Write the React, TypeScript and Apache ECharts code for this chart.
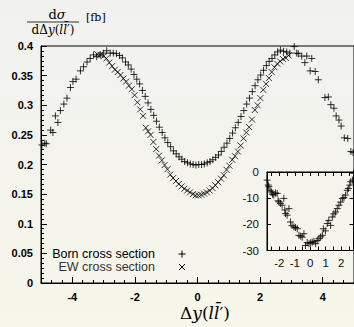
import React, { useEffect, useRef } from 'react';
import * as echarts from 'echarts';

// Born cross section (+), [Δy, dσ/dΔy in fb]
const BORN: [number, number][] = [
  [-4.97, 0.233], [-4.88, 0.236], [-4.83, 0.235], [-4.69, 0.258], [-4.62, 0.254], [-4.54, 0.282],
  [-4.46, 0.271], [-4.38, 0.291], [-4.27, 0.302], [-4.17, 0.312], [-4.06, 0.330], [-3.98, 0.340],
  [-3.88, 0.344], [-3.74, 0.358], [-3.64, 0.365], [-3.53, 0.373], [-3.43, 0.379], [-3.32, 0.385],
  [-3.22, 0.382], [-3.11, 0.385], [-3.01, 0.388], [-2.90, 0.392], [-2.79, 0.388], [-2.69, 0.388],
  [-2.59, 0.387], [-2.49, 0.384], [-2.40, 0.380], [-2.30, 0.373], [-2.21, 0.368], [-2.12, 0.361],
  [-2.03, 0.352], [-1.94, 0.344], [-1.85, 0.336], [-1.76, 0.325], [-1.67, 0.315], [-1.58, 0.304],
  [-1.49, 0.293], [-1.40, 0.283], [-1.31, 0.273], [-1.22, 0.263], [-1.13, 0.254], [-1.04, 0.245],
  [-0.95, 0.237], [-0.86, 0.230], [-0.77, 0.223], [-0.68, 0.218], [-0.59, 0.213], [-0.50, 0.209],
  [-0.41, 0.205], [-0.32, 0.203], [-0.23, 0.201], [-0.14, 0.200], [-0.05, 0.199], [0.04, 0.200],
  [0.13, 0.200], [0.22, 0.201], [0.31, 0.203], [0.40, 0.205], [0.49, 0.208], [0.58, 0.212],
  [0.67, 0.216], [0.76, 0.222], [0.85, 0.229], [0.94, 0.236], [1.03, 0.244], [1.12, 0.253],
  [1.21, 0.262], [1.30, 0.271], [1.39, 0.281], [1.48, 0.291], [1.57, 0.302], [1.66, 0.312],
  [1.75, 0.323], [1.84, 0.333], [1.93, 0.343], [2.02, 0.351], [2.11, 0.359], [2.20, 0.367],
  [2.29, 0.374], [2.38, 0.379], [2.47, 0.385], [2.56, 0.390], [2.65, 0.393], [2.75, 0.391],
  [2.85, 0.390], [2.95, 0.388], [3.09, 0.399], [3.17, 0.388], [3.22, 0.387], [3.33, 0.383],
  [3.43, 0.372], [3.49, 0.383], [3.60, 0.358], [3.65, 0.379], [3.76, 0.357], [3.86, 0.343],
  [4.07, 0.313], [4.18, 0.314], [4.26, 0.301], [4.36, 0.295], [4.43, 0.282], [4.52, 0.275],
  [4.59, 0.265], [4.69, 0.245], [4.80, 0.244], [4.90, 0.222], [4.97, 0.220],
];

// EW cross section (×)
const EW: [number, number][] = [
  [-3.20, 0.386], [-3.10, 0.385], [-3.00, 0.383], [-2.91, 0.379], [-2.82, 0.372], [-2.73, 0.366],
  [-2.64, 0.360], [-2.55, 0.356], [-2.46, 0.351], [-2.37, 0.345], [-2.28, 0.340], [-2.19, 0.333],
  [-2.10, 0.327], [-2.01, 0.317], [-1.92, 0.305], [-1.83, 0.293], [-1.74, 0.282], [-1.65, 0.262],
  [-1.58, 0.256], [-1.50, 0.250], [-1.41, 0.238], [-1.32, 0.226], [-1.23, 0.215], [-1.14, 0.207],
  [-1.05, 0.199], [-0.96, 0.192], [-0.87, 0.183], [-0.78, 0.177], [-0.69, 0.172], [-0.60, 0.167],
  [-0.51, 0.163], [-0.42, 0.159], [-0.33, 0.156], [-0.24, 0.153], [-0.15, 0.150], [-0.06, 0.148],
  [0.03, 0.148], [0.12, 0.149], [0.21, 0.151], [0.30, 0.153], [0.39, 0.156], [0.48, 0.160],
  [0.57, 0.165], [0.66, 0.170], [0.75, 0.176], [0.84, 0.182], [0.93, 0.191], [1.02, 0.198],
  [1.11, 0.208], [1.20, 0.214], [1.29, 0.222], [1.38, 0.232], [1.47, 0.244], [1.56, 0.254],
  [1.65, 0.263], [1.74, 0.276], [1.83, 0.292], [1.92, 0.300], [2.01, 0.312], [2.10, 0.326],
  [2.19, 0.336], [2.28, 0.346], [2.37, 0.356], [2.46, 0.364], [2.55, 0.370], [2.64, 0.374],
  [2.73, 0.378], [2.82, 0.380], [2.91, 0.384],
];

// Inset: relative EW correction in %
const RATIO: [number, number][] = [
  [-2.79, -3.1], [-2.72, -5.0], [-2.68, -5.6], [-2.60, -7.0], [-2.51, -7.6], [-2.44, -8.5],
  [-2.36, -8.8], [-2.25, -8.0], [-2.14, -8.2], [-2.08, -11.0], [-2.03, -11.4], [-1.93, -12.0],
  [-1.82, -12.7], [-1.71, -10.1], [-1.65, -14.5], [-1.60, -15.9], [-1.50, -16.5], [-1.38, -14.0],
  [-1.28, -19.1], [-1.18, -20.5], [-1.06, -21.0], [-0.95, -21.2], [-0.84, -21.7], [-0.73, -24.2],
  [-0.62, -24.5], [-0.52, -24.9], [-0.41, -23.6], [-0.31, -28.1], [-0.20, -27.0], [-0.08, -27.4],
  [0.03, -27.0], [0.13, -26.8], [0.24, -26.5], [0.35, -27.4], [0.45, -26.2], [0.56, -25.5],
  [0.67, -24.8], [0.78, -24.2], [0.85, -21.7], [0.98, -22.5], [1.10, -19.7], [1.20, -18.5],
  [1.32, -20.4], [1.43, -17.2], [1.53, -16.0], [1.64, -15.3], [1.75, -14.0], [1.86, -12.7],
  [1.97, -11.5], [2.08, -10.1], [2.18, -9.8], [2.29, -8.8], [2.40, -7.0], [2.47, -6.3],
  [2.56, -5.0], [2.62, -3.7], [2.73, -3.1], [2.80, -0.5],
];

const MAIN_X_LABELS = [-4, -2, 0, 2, 4];
const MAIN_X_MINOR = Array.from({ length: 31 }, (_, i) => -5 + i / 3);
const INSET_X_LABELS = [-2, -1, 0, 1, 2];
const INSET_X_TICKS = [-2.5, -2, -1.5, -1, -0.5, 0, 0.5, 1, 1.5, 2, 2.5];

const PLUS = 'path://M0,5L10,5M5,0L5,10';
const CROSS = 'path://M0,0L10,10M10,0L0,10';

const SANS = '"Liberation Sans", Arial, sans-serif';
const SERIF = '"DejaVu Serif", serif';

const markStyle = { color: 'rgba(0,0,0,0)', borderColor: '#000', borderWidth: 1 };

export default function App() {
  const ref = useRef<HTMLDivElement>(null);
  useEffect(() => {
    const chart = echarts.init(ref.current!, null, { renderer: 'svg' });
    const axisLine = { show: true, onZero: false, lineStyle: { color: '#000', width: 1 } };
    const noLine = { show: false, onZero: false };
    const mainLabel = { color: '#000', fontFamily: SANS, fontSize: 11, fontWeight: 'bold' as const };
    const insetLabel = { color: '#111', fontFamily: SANS, fontSize: 11.5 };
    chart.setOption({
      animation: false,
      backgroundColor: 'transparent',
      grid: [
        { left: 41, top: 46, width: 315, height: 237, show: true, borderColor: '#000', borderWidth: 1, backgroundColor: 'transparent' },
        { left: 267, top: 172, width: 86.5, height: 78.5, show: true, borderColor: '#000', borderWidth: 1, backgroundColor: 'transparent' },
      ],
      xAxis: [
        {
          gridIndex: 0, type: 'value', min: -5, max: 5, position: 'bottom',
          axisLine, splitLine: { show: false },
          axisTick: { show: true, inside: true, length: 6, customValues: MAIN_X_LABELS, lineStyle: { color: '#000' } },
          axisLabel: { ...mainLabel, margin: 8, customValues: MAIN_X_LABELS },
        },
        {
          gridIndex: 0, type: 'value', min: -5, max: 5, position: 'bottom',
          axisLine: noLine, splitLine: { show: false },
          axisTick: { show: true, inside: true, length: 3, customValues: MAIN_X_MINOR, lineStyle: { color: '#000' } },
          axisLabel: { show: false },
        },
        {
          gridIndex: 1, type: 'value', min: -2.8, max: 2.8, position: 'bottom',
          axisLine, splitLine: { show: false },
          axisTick: { show: true, inside: true, length: 4, customValues: INSET_X_TICKS, lineStyle: { color: '#000' } },
          axisLabel: { ...insetLabel, margin: 6, customValues: INSET_X_LABELS },
        },
        {
          gridIndex: 1, type: 'value', min: -2.8, max: 2.8, position: 'top',
          axisLine, splitLine: { show: false },
          axisTick: { show: true, inside: true, length: 4, customValues: INSET_X_TICKS, lineStyle: { color: '#000' } },
          axisLabel: { show: false },
        },
      ],
      yAxis: [
        {
          gridIndex: 0, type: 'value', min: 0, max: 0.4, interval: 0.05, position: 'left',
          axisLine, splitLine: { show: false },
          axisTick: { show: true, inside: true, length: 6, lineStyle: { color: '#000' } },
          minorTick: { show: true, splitNumber: 6, length: 3, lineStyle: { color: '#000' } },
          axisLabel: { ...mainLabel, margin: 8, formatter: (v: number) => String(Math.round(v * 100) / 100) },
        },
        {
          gridIndex: 1, type: 'value', min: -30, max: 0, interval: 10, position: 'left',
          axisLine, splitLine: { show: false },
          axisTick: { show: true, inside: true, length: 4, lineStyle: { color: '#000' } },
          axisLabel: { ...insetLabel, margin: 8 },
        },
        {
          gridIndex: 1, type: 'value', min: -30, max: 0, interval: 10, position: 'right',
          axisLine, splitLine: { show: false },
          axisTick: { show: true, inside: true, length: 4, lineStyle: { color: '#000' } },
          axisLabel: { show: false },
        },
      ],
      series: [
        { name: 'Born cross section', type: 'scatter', xAxisIndex: 0, yAxisIndex: 0, data: BORN, symbol: PLUS, symbolSize: 7, itemStyle: markStyle, silent: true },
        { name: 'EW cross section', type: 'scatter', xAxisIndex: 0, yAxisIndex: 0, data: EW, symbol: CROSS, symbolSize: 6, itemStyle: markStyle, silent: true },
        { name: 'ratio', type: 'scatter', xAxisIndex: 2, yAxisIndex: 1, data: RATIO, symbol: PLUS, symbolSize: 7, itemStyle: markStyle, silent: true },
      ],
      graphic: [
        // y-axis title as a fraction
        {
          type: 'text', x: 57, y: 14,
          style: {
            text: '{u|d}{i|σ}', align: 'center', verticalAlign: 'middle',
            rich: { u: { fontFamily: SERIF, fontSize: 13, fill: '#000' }, i: { fontFamily: SERIF, fontSize: 13, fontStyle: 'italic', fill: '#000' } },
          },
        },
        { type: 'line', shape: { x1: 27, y1: 22, x2: 79, y2: 22 }, style: { stroke: '#000', lineWidth: 0.8 } },
        {
          type: 'text', x: 53, y: 29.5,
          style: {
            text: '{u|dΔ}{i|y}{u|(}{i|ll\u0304}{u|′)}', align: 'center', verticalAlign: 'middle',
            rich: { u: { fontFamily: SERIF, fontSize: 12, fill: '#000' }, i: { fontFamily: SERIF, fontSize: 12, fontStyle: 'italic', fill: '#000' } },
          },
        },
        { type: 'text', x: 86, y: 17, style: { text: '[fb]', fontFamily: SERIF, fontSize: 11, fill: '#000', align: 'left', verticalAlign: 'middle' } },
        // x-axis title
        {
          type: 'text', x: 205, y: 313,
          style: {
            text: '{u|Δ}{i|y}{u|(}{i|ll\u0304}{u|′)}', align: 'center', verticalAlign: 'middle',
            rich: { u: { fontFamily: SERIF, fontSize: 17, fill: '#000' }, i: { fontFamily: SERIF, fontSize: 17, fontStyle: 'italic', fill: '#000' } },
          },
        },
        // legend
        { type: 'text', x: 155, y: 254, style: { text: 'Born cross section', fontFamily: SANS, fontSize: 12.5, fill: '#000', align: 'right', verticalAlign: 'middle' } },
        { type: 'text', x: 155, y: 267, style: { text: 'EW cross section', fontFamily: SANS, fontSize: 12.5, fill: '#333', align: 'right', verticalAlign: 'middle' } },
        { type: 'line', shape: { x1: 178.5, y1: 254, x2: 185.5, y2: 254 }, style: { stroke: '#000', lineWidth: 1 } },
        { type: 'line', shape: { x1: 182, y1: 250.5, x2: 182, y2: 257.5 }, style: { stroke: '#000', lineWidth: 1 } },
        { type: 'line', shape: { x1: 179, y1: 264, x2: 185, y2: 270 }, style: { stroke: '#000', lineWidth: 1 } },
        { type: 'line', shape: { x1: 185, y1: 264, x2: 179, y2: 270 }, style: { stroke: '#000', lineWidth: 1 } },
      ],
    });
    return () => chart.dispose();
  }, []);
  return (
    <div
      ref={ref}
      style={{
        position: 'fixed', left: 0, top: 0, width: 354, height: 327,
        background: 'linear-gradient(#f1f1f0, #f7f6ea)',
      }}
    />
  );
}
